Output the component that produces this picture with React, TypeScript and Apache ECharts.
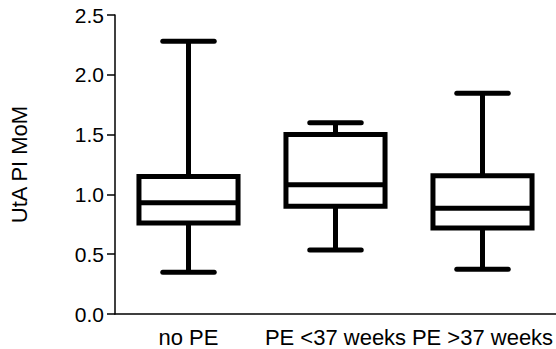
import React, { useEffect, useRef } from "react";
import * as echarts from "echarts";

const categories = ["no PE", "PE <37 weeks", "PE >37 weeks"];
const minValues = [0.35, 0.535, 0.375];
const q1Values = [0.76, 0.9, 0.72];
const medianValues = [0.93, 1.08, 0.885];
const q3Values = [1.15, 1.5, 1.155];
const maxValues = [2.28, 1.6, 1.845];
const yTicks = { min: 0, max: 2.5, interval: 0.5 };
const yAxisTitle = "UtA PI MoM";

const FONT = "'Liberation Sans', Arial, sans-serif";

export default function App() {
  const ref = useRef<HTMLDivElement>(null);
  useEffect(() => {
    if (!ref.current) return;
    const chart = echarts.init(ref.current, null, { renderer: "svg" });
    const data = categories.map((_, i) => [
      i,
      minValues[i],
      q1Values[i],
      medianValues[i],
      q3Values[i],
      maxValues[i],
    ]);
    const LW = 5;
    const col = "#000";
    chart.setOption({
      animation: false,
      grid: { left: 109, top: 15, right: 0, bottom: 35, containLabel: false },
      xAxis: {
        type: "category",
        data: categories,
        boundaryGap: true,
        axisLine: { lineStyle: { color: "#000", width: 1.5 } },
        axisTick: { alignWithLabel: true, length: 7, lineStyle: { color: "#000", width: 1.5 } },
        axisLabel: { color: "#000", fontSize: 22, fontFamily: FONT, margin: 12, interval: 0 },
        splitLine: { show: false },
      },
      yAxis: {
        type: "value",
        min: yTicks.min,
        max: yTicks.max,
        interval: yTicks.interval,
        name: yAxisTitle,
        nameLocation: "middle",
        nameGap: 85,
        nameRotate: 90,
        nameTextStyle: { color: "#000", fontSize: 22, fontFamily: FONT },
        axisLine: { show: true, lineStyle: { color: "#000", width: 1.5 } },
        axisTick: { show: true, length: 8, lineStyle: { color: "#000", width: 1.5 } },
        axisLabel: {
          color: "#000",
          fontSize: 21,
          fontFamily: FONT,
          margin: 11,
          formatter: (v: number) => v.toFixed(1),
        },
        splitLine: { show: false },
      },
      series: [
        {
          type: "custom",
          data,
          encode: { x: 0, y: [1, 2, 3, 4, 5] },
          renderItem: (params: any, api: any) => {
            const idx = api.value(0);
            const band = api.size([1, 0])[0];
            const half = band * 0.337;
            const capHalf = band * 0.175;
            const pMin = api.coord([idx, api.value(1)]);
            const pQ1 = api.coord([idx, api.value(2)]);
            const pMed = api.coord([idx, api.value(3)]);
            const pQ3 = api.coord([idx, api.value(4)]);
            const pMax = api.coord([idx, api.value(5)]);
            const cx = pMed[0];
            const lineStyle = { stroke: col, lineWidth: LW, fill: "none" };
            return {
              type: "group",
              children: [
                {
                  type: "rect",
                  shape: { x: cx - half, y: pQ3[1], width: half * 2, height: pQ1[1] - pQ3[1] },
                  style: { ...lineStyle, lineJoin: "miter" },
                },
                {
                  type: "line",
                  shape: { x1: cx - half, y1: pMed[1], x2: cx + half, y2: pMed[1] },
                  style: lineStyle,
                },
                {
                  type: "line",
                  shape: { x1: cx, y1: pQ3[1], x2: cx, y2: pMax[1] },
                  style: lineStyle,
                },
                {
                  type: "line",
                  shape: { x1: cx, y1: pQ1[1], x2: cx, y2: pMin[1] },
                  style: lineStyle,
                },
                {
                  type: "line",
                  shape: { x1: cx - capHalf, y1: pMax[1], x2: cx + capHalf, y2: pMax[1] },
                  style: { ...lineStyle, lineCap: "round" },
                },
                {
                  type: "line",
                  shape: { x1: cx - capHalf, y1: pMin[1], x2: cx + capHalf, y2: pMin[1] },
                  style: { ...lineStyle, lineCap: "round" },
                },
              ],
            };
          },
        },
      ],
    });
    return () => chart.dispose();
  }, []);
  return (
    <div
      ref={ref}
      style={{ position: "fixed", left: 0, top: 0, width: 556, height: 349, background: "#fff" }}
    />
  );
}
